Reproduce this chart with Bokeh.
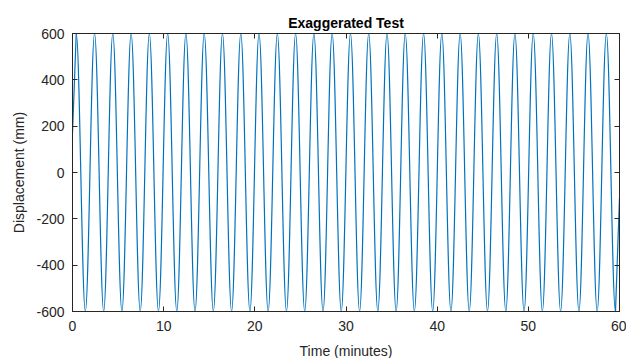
from bokeh.plotting import figure
from bokeh.models import LinearAxis, FixedTicker, Range1d, ColumnDataSource
from bokeh.embed import file_html
from bokeh.resources import INLINE

# Axis ticks and their labels
time_ticks = [0, 10, 20, 30, 40, 50, 60]
time_labels = ["0", "10", "20", "30", "40", "50", "60"]
disp_ticks = [-600, -400, -200, 0, 200, 400, 600]
disp_labels = ["-600", "-400", "-200", "0", "200", "400", "600"]

# Turning points of the displacement signal (minutes, mm)
extreme_times = [
    0.41, 1.41, 2.42, 3.42, 4.42, 5.42, 6.43, 7.43, 8.43, 9.43,
    10.44, 11.44, 12.44, 13.44, 14.45, 15.45, 16.45, 17.45, 18.46, 19.46,
    20.46, 21.46, 22.47, 23.47, 24.47, 25.47, 26.48, 27.48, 28.48, 29.48,
    30.49, 31.49, 32.49, 33.49, 34.50, 35.50, 36.50, 37.50, 38.51, 39.51,
    40.51, 41.51, 42.52, 43.52, 44.52, 45.52, 46.53, 47.53, 48.53, 49.53,
    50.54, 51.54, 52.54, 53.54, 54.55, 55.55, 56.55, 57.55, 58.56, 59.56,
]
extreme_values = [
    600, -600, 600, -600, 600, -600, 600, -600, 600, -600,
    600, -600, 600, -600, 600, -600, 600, -600, 600, -600,
    600, -600, 600, -600, 600, -600, 600, -600, 600, -600,
    600, -600, 600, -600, 600, -600, 600, -600, 600, -600,
    600, -600, 600, -600, 600, -600, 600, -600, 600, -600,
    600, -600, 600, -600, 600, -600, 600, -600, 600, -600,
]
# Signal at the ends of the recording
start_time, start_value = 0.0, 170
end_time, end_value = 60.0, -110

LINE = "#0072BD"
AXIS = "#262626"
FONT = "Liberation Sans"

p = figure(
    frame_width=547, frame_height=278,
    min_border_left=72, min_border_right=7, min_border_top=33, min_border_bottom=47,
    x_range=Range1d(0, 60), y_range=Range1d(-600, 600),
    output_backend="svg", toolbar_location=None,
    background_fill_color="white", border_fill_color="white",
)
p.grid.visible = False
p.outline_line_color = AXIS
p.outline_line_width = 1

# Smooth half-waves between consecutive turning points, drawn as cubic Beziers
# with horizontal tangents at each crest and trough.
K = 0.3634
x0 = extreme_times[:-1]
x1 = extreme_times[1:]
y0 = extreme_values[:-1]
y1 = extreme_values[1:]
src = ColumnDataSource(dict(
    x0=x0, y0=y0, x1=x1, y1=y1,
    cx0=[a + K * (b - a) for a, b in zip(x0, x1)], cy0=y0,
    cx1=[b - K * (b - a) for a, b in zip(x0, x1)], cy1=y1,
))
p.bezier(x0="x0", y0="y0", x1="x1", y1="y1", cx0="cx0", cy0="cy0",
         cx1="cx1", cy1="cy1", source=src, line_color=LINE, line_width=1.2)

# Partial half-waves at the start and end of the record
p.line([start_time, extreme_times[0]], [start_value, extreme_values[0]],
       line_color=LINE, line_width=1.2)
p.line([extreme_times[-1], end_time], [extreme_values[-1], end_value],
       line_color=LINE, line_width=1.2)


def style_axis(ax, ticks, labels):
    ax.ticker = FixedTicker(ticks=ticks)
    ax.major_label_overrides = {t: s for t, s in zip(ticks, labels)}
    ax.major_tick_in = 5
    ax.major_tick_out = 0
    ax.minor_tick_in = 0
    ax.minor_tick_out = 0
    ax.axis_line_color = AXIS
    ax.major_tick_line_color = AXIS
    ax.major_label_text_color = AXIS
    ax.major_label_text_font = FONT
    ax.major_label_text_font_size = "14px"
    ax.axis_label_text_font = FONT
    ax.axis_label_text_font_size = "14px"
    ax.axis_label_text_font_style = "normal"
    ax.axis_label_text_color = AXIS


style_axis(p.xaxis[0], time_ticks, time_labels)
p.xaxis[0].axis_label = "Time (minutes)"
p.xaxis[0].major_label_standoff = 9
p.xaxis[0].axis_label_standoff = 9

style_axis(p.yaxis[0], disp_ticks, disp_labels)
p.yaxis[0].axis_label = "Displacement (mm)"
p.yaxis[0].major_label_standoff = 8
p.yaxis[0].axis_label_standoff = 6

# Box ticks on the opposite sides; their labels are not drawn
top = LinearAxis()
style_axis(top, time_ticks, time_labels)
top.major_label_text_color = None
top.major_label_text_font_size = "1px"
top.major_label_standoff = 0
p.add_layout(top, "above")

right = LinearAxis()
style_axis(right, disp_ticks, disp_labels)
right.major_label_text_color = None
right.major_label_text_font_size = "1px"
right.major_label_standoff = 0
p.add_layout(right, "right")

p.title.text = "Exaggerated Test"
p.title.align = "center"
p.title.text_font = FONT
p.title.text_font_size = "14px"
p.title.text_font_style = "bold"
p.title.text_color = "black"
p.title.standoff = 5

open("out.html", "w").write(file_html(p, INLINE))
